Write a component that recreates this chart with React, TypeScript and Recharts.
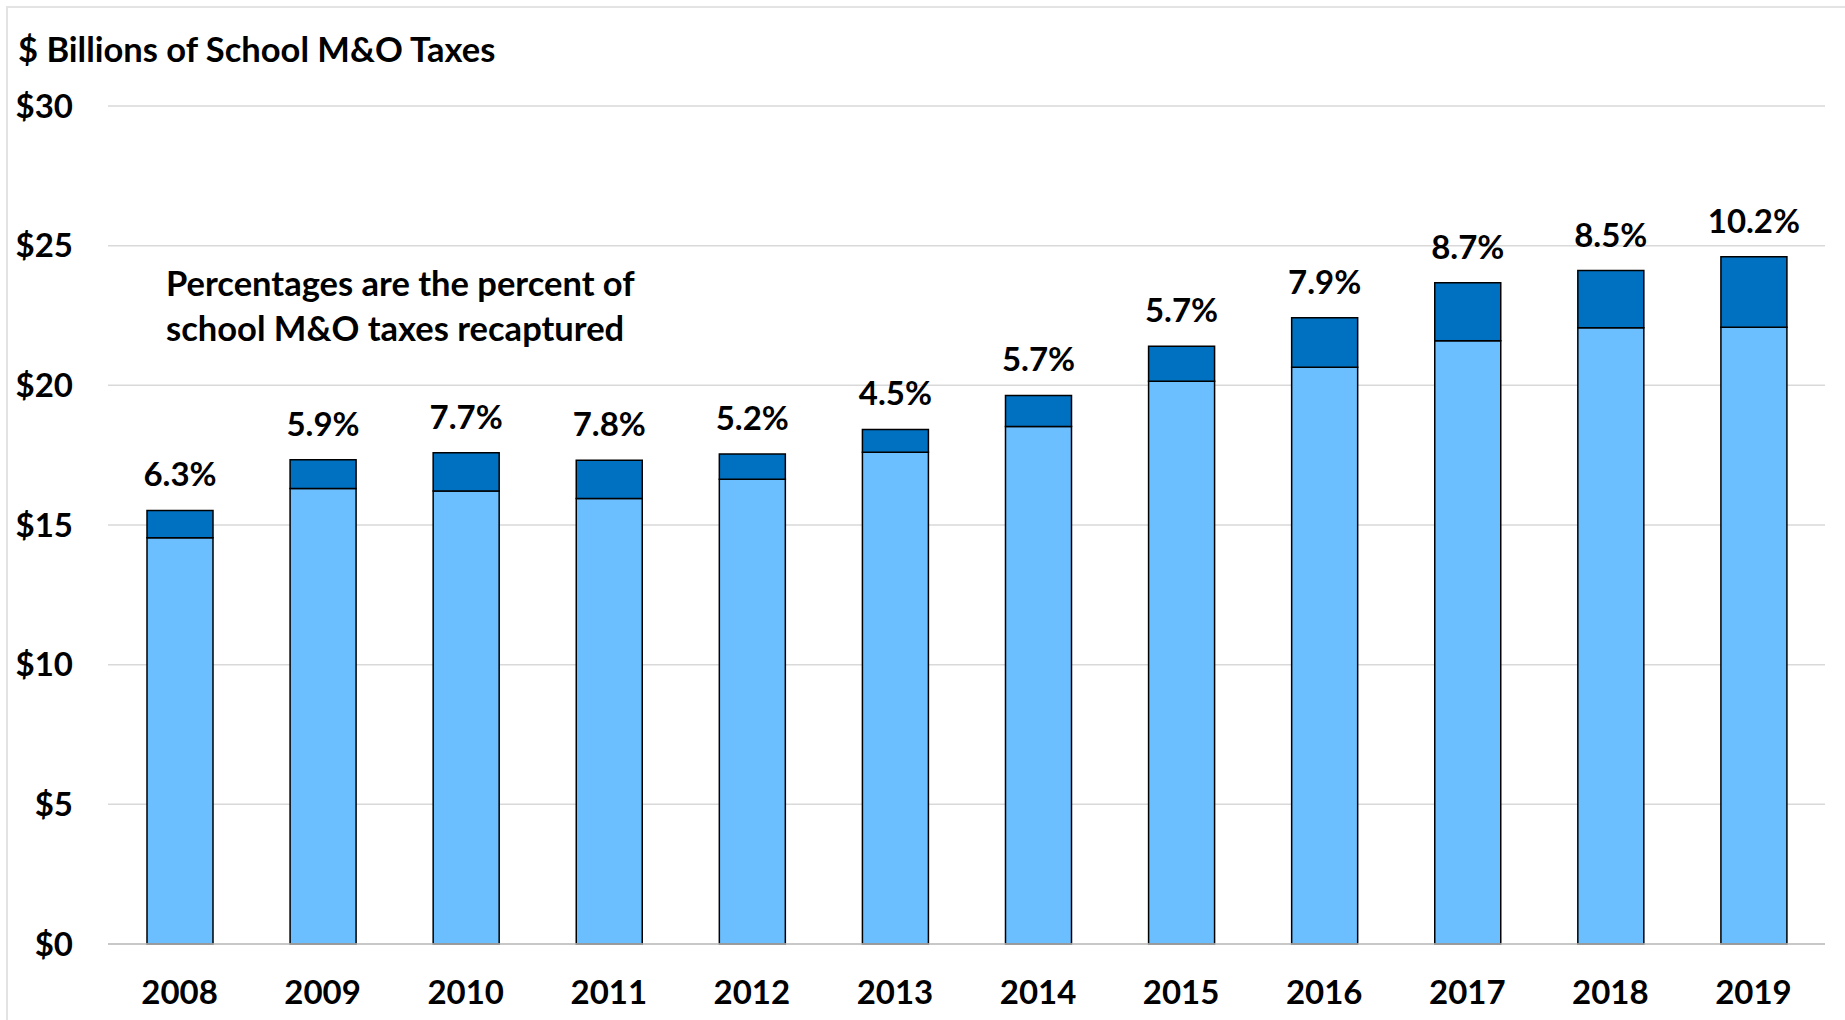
import React from 'react';
import { BarChart, Bar, XAxis, YAxis, CartesianGrid, LabelList } from 'recharts';

const years = ['2008', '2009', '2010', '2011', '2012', '2013', '2014', '2015', '2016', '2017', '2018', '2019'];
const retained = [14.54, 16.31, 16.22, 15.95, 16.64, 17.6, 18.53, 20.15, 20.65, 21.6, 22.06, 22.08];
const recaptured = [0.98, 1.03, 1.37, 1.37, 0.9, 0.82, 1.11, 1.25, 1.77, 2.07, 2.05, 2.52];
const percentLabels = ['6.3%', '5.9%', '7.7%', '7.8%', '5.2%', '4.5%', '5.7%', '5.7%', '7.9%', '8.7%', '8.5%', '10.2%'];
const yTicks = [0, 5, 10, 15, 20, 25, 30];

const data = years.map((year, i) => ({
  year,
  retained: retained[i],
  recaptured: recaptured[i],
  pct: percentLabels[i],
}));

const FONT = 'Lato, "Open Sans", sans-serif';

export default function App() {
  return (
    <div
      style={{
        position: 'absolute',
        left: 0,
        top: 0,
        width: 1845,
        height: 1020,
        background: '#fff',
        fontFamily: FONT,
        overflow: 'hidden',
      }}
    >
      <div
        style={{
          position: 'absolute',
          left: 6,
          top: 6,
          width: 1839,
          height: 1014,
          borderLeft: '2px solid #e3e3e3',
          borderTop: '2px solid #e3e3e3',
          boxSizing: 'border-box',
        }}
      />
      <div
        style={{
          position: 'absolute',
          left: 18,
          top: 28,
          fontSize: 34.5,
          fontWeight: 700,
          color: '#000',
          whiteSpace: 'nowrap',
        }}
      >
        $ Billions of School M&amp;O Taxes
      </div>
      <div
        style={{
          position: 'absolute',
          left: 166,
          top: 260,
          fontSize: 34.5,
          fontWeight: 700,
          lineHeight: '45px',
          color: '#000',
          whiteSpace: 'nowrap',
        }}
      >
        Percentages are the percent of
        <br />
        school M&amp;O taxes recaptured
      </div>
      <BarChart
        width={1845}
        height={1020}
        data={data}
        margin={{ top: 106, right: 20, bottom: 0, left: 10 }}
        barSize={66}
        style={{ position: 'absolute', left: 0, top: 0 }}
      >
        <CartesianGrid vertical={false} stroke="#d9d9d9" strokeWidth={1.5} />
        <XAxis
          dataKey="year"
          height={76}
          axisLine={{ stroke: '#bfbfbf', strokeWidth: 1.5 }}
          tickLine={false}
          tickSize={0}
          tickMargin={37}
          tick={{ fontSize: 33, fontWeight: 700, fill: '#000', fontFamily: FONT }}
        />
        <YAxis
          width={98}
          domain={[0, 30]}
          ticks={yTicks}
          axisLine={false}
          tickLine={false}
          tickSize={0}
          tickMargin={35}
          tickFormatter={(v: number) => `$${v}`}
          tick={{ fontSize: 33, fontWeight: 700, fill: '#000', fontFamily: FONT }}
        />
        <Bar
          dataKey="retained"
          stackId="a"
          fill="#6bbfff"
          stroke="#000"
          strokeWidth={1.5}
          isAnimationActive={false}
        />
        <Bar
          dataKey="recaptured"
          stackId="a"
          fill="#0070c0"
          stroke="#000"
          strokeWidth={1.5}
          isAnimationActive={false}
        >
          <LabelList
            dataKey="pct"
            position="top"
            offset={24}
            style={{ fontSize: 33, fontWeight: 700, fill: '#000', fontFamily: FONT }}
          />
        </Bar>
      </BarChart>
    </div>
  );
}
